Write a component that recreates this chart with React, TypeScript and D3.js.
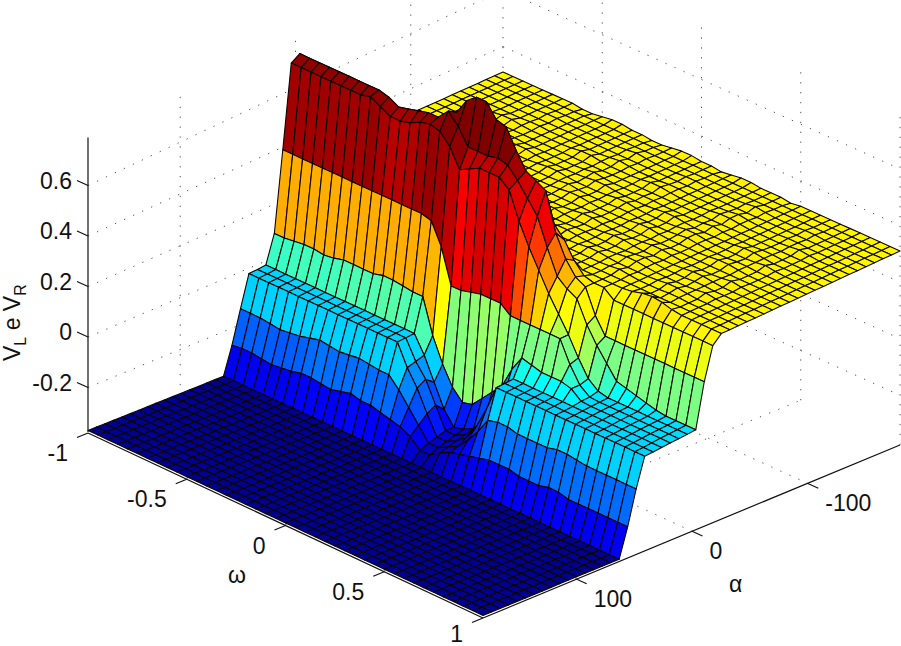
import React from 'react';
import * as d3 from 'd3';

const omegaTicks = [-1, -0.5, 0, 0.5, 1];
const alphaTicks = [100, 0, -100];
const zTicks = [-0.2, 0, 0.2, 0.4, 0.6];

// surface heights, one list per alpha row (front to back), 41 omega columns
const floorRow = [
  -.37,-.37,-.37,-.37,-.37,-.37,-.37,-.37,-.37,-.37,
  -.37,-.37,-.37,-.37,-.37,-.37,-.37,-.37,-.37,-.37,
  -.37,-.37,-.37,-.37,-.37,-.37,-.37,-.37,-.37,-.37,
  -.37,-.37,-.37,-.37,-.37,-.37,-.37,-.37,-.37,-.37,
  -.37,
];
const row17 = [
  -.265,-.26,-.26,-.265,-.27,-.265,-.26,-.25,-.25,-.255,
  -.26,-.25,-.24,-.25,-.25,-.26,-.27,-.28,-.30,-.335,
  -.335,-.31,-.29,-.28,-.27,-.26,-.25,-.25,-.25,-.26,
  -.26,-.26,-.25,-.25,-.26,-.26,-.26,-.26,-.26,-.26,
  -.26,
];
const row18 = [
  -.14,-.14,-.14,-.145,-.15,-.145,-.14,-.13,-.12,-.125,
  -.13,-.125,-.12,-.125,-.13,-.13,-.17,-.22,-.27,-.32,
  -.32,-.30,-.28,-.24,-.19,-.13,-.12,-.12,-.13,-.13,
  -.13,-.13,-.12,-.12,-.125,-.13,-.13,-.13,-.13,-.13,
  -.13,
];
const row19 = [
  -.02,-.02,-.02,-.02,-.02,-.02,-.02,-.02,-.02,-.02,
  -.02,-.02,-.02,-.02,-.02,-.02,-.10,-.16,-.24,-.31,
  -.31,-.29,-.26,-.20,-.12,-.02,-.02,-.02,-.02,-.02,
  -.02,-.02,-.02,-.02,-.02,-.02,-.02,-.02,-.02,-.02,
  -.02,
];
const row20 = [
  -.018,-.018,-.018,-.018,-.018,-.018,-.018,-.018,-.018,-.018,
  -.018,-.018,-.018,-.018,-.018,-.018,-.09,-.14,-.22,-.30,
  -.30,-.28,-.24,-.19,-.11,-.018,-.018,-.018,-.018,-.018,
  -.018,-.018,-.018,-.018,-.018,-.018,-.018,-.018,-.018,-.018,
  -.018,
];
const row21 = [
  -.015,-.015,-.015,-.015,-.015,-.015,-.015,-.015,-.015,-.015,
  -.015,-.015,-.015,-.015,-.015,-.015,-.08,-.165,-.25,-.30,
  -.29,-.27,-.23,-.18,-.10,-.015,-.015,-.015,-.015,-.015,
  -.015,-.015,-.015,-.015,-.015,-.015,-.015,-.015,-.015,-.015,
  -.015,
];
const row22 = [
  .09,.09,.095,.10,.10,.095,.10,.11,.11,.11,
  .11,.12,.12,.115,.11,.11,-.02,-.11,-.18,-.22,
  -.21,-.17,-.13,-.09,-.01,.05,.04,.03,.03,.03,
  .02,-.01,-.012,-.012,-.012,-.012,-.012,-.012,-.012,-.012,
  -.012,
];
const row23 = [
  .39,.39,.39,.39,.39,.39,.39,.39,.39,.39,
  .39,.39,.39,.39,.39,.38,.30,.17,.17,.18,
  .19,.19,.19,.16,.16,.16,.16,.16,.16,.08,
  .02,-.008,-.01,-.01,-.01,-.01,-.01,-.01,-.01,-.01,
  -.01,
];
const row24 = [
  .70,.70,.70,.70,.70,.70,.70,.70,.71,.69,
  .67,.67,.68,.70,.71,.70,.66,.59,.61,.63,
  .63,.63,.60,.50,.42,.35,.28,.22,.16,.09,
  .03,0,-.008,-.008,-.008,-.008,-.008,-.008,-.008,-.008,
  -.008,
];
const row25 = [
  .72,.72,.72,.72,.72,.72,.72,.72,.72,.71,
  .69,.70,.71,.72,.72,.76,.72,.66,.66,.66,
  .67,.66,.62,.57,.52,.42,.33,.30,.28,.20,
  .14,.09,.04,.03,.02,.01,0,-.005,-.005,-.005,
  -.005,
];
const row26 = [
  .52,.52,.52,.52,.52,.52,.52,.52,.52,.52,
  .52,.52,.52,.52,.55,.74,.80,.83,.83,.78,
  .77,.70,.64,.62,.60,.46,.38,.33,.31,.22,
  .16,.16,.16,.16,.16,.16,.16,.16,.16,.16,
  .16,
];
const row27 = [
  .32,.32,.32,.32,.32,.32,.32,.32,.32,.32,
  .32,.32,.32,.32,.34,.55,.62,.65,.65,.58,
  .54,.50,.48,.47,.46,.42,.36,.32,.31,.31,
  .28,.28,.28,.28,.28,.28,.28,.28,.28,.28,
  .28,
];
const row28 = [
  .31,.31,.31,.31,.31,.31,.31,.31,.31,.31,
  .31,.31,.31,.31,.31,.34,.38,.42,.42,.38,
  .34,.32,.31,.31,.31,.31,.31,.31,.31,.31,
  .31,.315,.325,.33,.325,.315,.31,.31,.31,.31,
  .31,
];
const plateauA = [
  .31,.31,.31,.31,.31,.31,.31,.31,.31,.31,
  .31,.31,.31,.31,.31,.31,.31,.31,.31,.31,
  .31,.31,.31,.31,.31,.31,.31,.31,.31,.31,
  .31,.31,.31,.31,.31,.31,.31,.31,.31,.31,
  .31,
];
const plateauB = [
  .31,.31,.31,.31,.31,.31,.31,.31,.313,.318,
  .318,.313,.31,.31,.31,.31,.313,.318,.318,.313,
  .31,.31,.31,.313,.318,.318,.313,.31,.31,.31,
  .31,.313,.318,.318,.313,.31,.31,.31,.31,.31,
  .31,
];
const plateauC = [
  .31,.31,.31,.31,.313,.318,.318,.313,.31,.31,
  .31,.31,.313,.318,.318,.313,.31,.31,.31,.313,
  .318,.318,.313,.31,.31,.31,.313,.318,.318,.313,
  .31,.31,.31,.31,.313,.318,.313,.31,.31,.31,
  .31,
];
const plateauD = [
  .31,.31,.31,.31,.31,.31,.31,.313,.313,.31,
  .31,.31,.31,.31,.31,.313,.318,.313,.31,.31,
  .31,.313,.313,.31,.31,.31,.31,.313,.318,.313,
  .31,.31,.31,.313,.313,.31,.31,.31,.31,.31,
  .31,
];
const backEdge = [
  .31,.31,.31,.31,.31,.31,.31,.31,.305,.305,
  .31,.315,.315,.31,.31,.305,.305,.31,.315,.315,
  .31,.31,.305,.31,.315,.315,.31,.31,.31,.305,
  .31,.31,.31,.31,.31,.31,.31,.31,.31,.31,
  .31,
];

const zRows = [
  floorRow, floorRow, floorRow, floorRow, floorRow, floorRow, floorRow, floorRow,
  floorRow, floorRow, floorRow, floorRow, floorRow, floorRow, floorRow, floorRow, floorRow,
  row17, row18, row19, row20, row21, row22, row23, row24, row25, row26, row27, row28,
  plateauA, plateauD, plateauB, plateauC, plateauD, plateauB, plateauC, plateauA, plateauB,
  plateauD, plateauC, plateauB, plateauD, plateauA, plateauC, plateauD, plateauA, plateauD,
  plateauA, plateauA, backEdge,
];

const width = 901;
const height = 646;

// the box is slightly out of true, so the floor is pinned on its four corners
const cornerA = [88, 432];
const cornerB = [483, 617];
const cornerC = [900, 445];
const cornerD = [503, 266];
const zBottom = -0.376;
const zTop = 0.79;

const uScale = d3.scaleLinear().domain([-1, 1]).range([0, 1]);
const tScale = d3.scaleLinear().domain([180, -180]).range([0, 1]);
const zScale = d3.scaleLinear().domain([zBottom, zTop]).range([0, 1.166 * 252.5]);

const project = (omega: number, alpha: number, z: number): [number, number] => {
  const u = uScale(omega);
  const t = tScale(alpha);
  const fx = (i: number) =>
    (1 - t) * ((1 - u) * cornerA[i] + u * cornerB[i]) + t * ((1 - u) * cornerD[i] + u * cornerC[i]);
  return [fx(0), fx(1) - zScale(z) * (1 + 0.12 * t)];
};

// jet colormap, knots placed on the heights of the picture
const jet = d3
  .scaleLinear<string>()
  .domain([-0.38, -0.245, 0.03, 0.3, 0.58, 0.74])
  .range(['#00008a', '#0000ff', '#00ffff', '#ffff00', '#ff0000', '#800000'])
  .clamp(true);

const omegaNodes = d3.range(41).map((j) => -1 + j * 0.05);
const alphaNodes = d3.range(50).map((i) => 180 - (i * 360) / 49);

const closed = d3.line().curve(d3.curveLinearClosed);
const font = '"Liberation Sans", Arial, sans-serif';

const Dotted = ({ a, b }: { a: [number, number]; b: [number, number] }) => (
  <line x1={a[0]} y1={a[1]} x2={b[0]} y2={b[1]} stroke="#555" strokeWidth={1} strokeDasharray="1.3 8.6" />
);

const App = () => {
  const faces: { d: string; fill: string }[] = [];
  // back to front, so nearer cells cover the ones behind them
  for (let r = zRows.length - 2; r >= 0; r--) {
    for (let j = 0; j < omegaNodes.length - 1; j++) {
      const pts = [
        project(omegaNodes[j], alphaNodes[r], zRows[r][j]),
        project(omegaNodes[j + 1], alphaNodes[r], zRows[r][j + 1]),
        project(omegaNodes[j + 1], alphaNodes[r + 1], zRows[r + 1][j + 1]),
        project(omegaNodes[j], alphaNodes[r + 1], zRows[r + 1][j]),
      ];
      faces.push({ d: closed(pts) as string, fill: jet(zRows[r + 1][j]) });
    }
  }

  return (
    <svg
      width={width}
      height={height}
      viewBox={`0 0 ${width} ${height}`}
      style={{ position: 'absolute', left: 0, top: 0, background: '#fff' }}
      fontFamily={font}
    >
      {/* dotted box grid */}
      <g>
        {zTicks.map((z) => (
          <g key={z}>
            <Dotted a={project(-1, 180, z)} b={project(-1, -180, z)} />
            <Dotted a={project(-1, -180, z)} b={project(1, -180, z)} />
          </g>
        ))}
        {alphaTicks.map((a) => (
          <g key={a}>
            <Dotted a={project(-1, a, zBottom)} b={project(-1, a, zTop)} />
            <Dotted a={project(-1, a, zBottom)} b={project(1, a, zBottom)} />
          </g>
        ))}
        {omegaTicks.slice(1).map((w) => (
          <Dotted key={w} a={project(w, -180, zBottom)} b={project(w, -180, zTop)} />
        ))}
        {omegaTicks.slice(1, 4).map((w) => (
          <Dotted key={w} a={project(w, 180, zBottom)} b={project(w, -180, zBottom)} />
        ))}
        <Dotted a={project(-1, -180, zBottom)} b={project(-1, -180, zTop)} />
      </g>

      {/* surface */}
      <g stroke="#0d0500" strokeWidth={1.1} strokeLinejoin="round">
        {faces.map((f, i) => (
          <path key={i} d={f.d} fill={f.fill} />
        ))}
      </g>

      {/* axes */}
      <g stroke="#111" strokeWidth={1.2} fill="none">
        <line x1={cornerA[0]} y1={project(-1, 180, zTop)[1]} x2={cornerA[0]} y2={cornerA[1]} />
        <line x1={cornerA[0]} y1={cornerA[1] + 1} x2={cornerB[0]} y2={cornerB[1] + 1} />
        <line x1={cornerB[0]} y1={cornerB[1] + 1} x2={cornerC[0]} y2={cornerC[1]} />
        {zTicks.map((z) => {
          const p = project(-1, 180, z);
          return <line key={z} x1={p[0]} y1={p[1]} x2={p[0] - 11} y2={p[1] - 5} />;
        })}
        {omegaTicks.map((w) => {
          const p = project(w, 180, zBottom);
          return <line key={w} x1={p[0]} y1={p[1] + 1} x2={p[0] - 11} y2={p[1] + 5.5} />;
        })}
        {alphaTicks.map((a) => {
          const p = project(1, a, zBottom);
          return <line key={a} x1={p[0]} y1={p[1]} x2={p[0] + 11} y2={p[1] + 5} />;
        })}
      </g>

      {/* tick labels */}
      <g fontSize={23} fill="#111">
        {zTicks.map((z) => {
          const p = project(-1, 180, z);
          return (
            <text key={z} x={p[0] - 16} y={p[1] + 3} textAnchor="end">
              {z}
            </text>
          );
        })}
        {omegaTicks.map((w) => {
          const p = project(w, 180, zBottom);
          return (
            <text key={w} x={p[0] - 20} y={Math.min(p[1] + 29, 642)} textAnchor="end">
              {w}
            </text>
          );
        })}
        {alphaTicks.map((a) => {
          const p = project(1, a, zBottom);
          return (
            <text key={a} x={p[0] + 18} y={p[1] + 28}>
              {a}
            </text>
          );
        })}
        <text x={228} y={583}>ω</text>
        <text x={729} y={592}>α</text>
        <text x={20} y={361} transform="rotate(-90 20 361)">
          V<tspan fontSize={16} dy={6}>L</tspan>
          <tspan dy={-6}> e V</tspan>
          <tspan fontSize={16} dy={6}>R</tspan>
        </text>
      </g>
    </svg>
  );
};

export default App;
